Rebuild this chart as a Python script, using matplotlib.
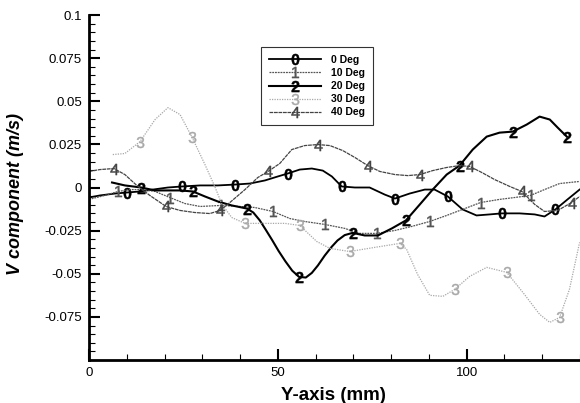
import matplotlib
matplotlib.use('Agg')
import matplotlib.pyplot as plt
from matplotlib.lines import Line2D
from matplotlib.ticker import MultipleLocator, FixedLocator, FuncFormatter

plt.rcParams['font.family'] = ['Liberation Sans', 'DejaVu Sans']
plt.rcParams['axes.unicode_minus'] = False
plt.rcParams['mathtext.fontset'] = 'custom'
plt.rcParams['mathtext.rm'] = 'Liberation Sans:bold'
plt.rcParams['mathtext.sf'] = 'Liberation Sans'

# Values (Y position in mm, V in m/s)
deg0_x = [0, 2.9, 6.9, 10.1, 13.5, 16.9, 20.9, 24.6, 29.4, 34.1, 38.6, 42.6, 46.6, 50.0, 52.6, 55.8,
          59.0, 61.9, 64.3, 66.9, 70.4, 74.3, 78.3, 81.0, 84.9, 88.9, 91.5, 95.0, 98.9, 102.6, 106.1,
          109.3, 114.0, 118.0, 120.6, 123.5, 126.7, 129.9]
deg0_y = [-0.0058, -0.0046, -0.0035, -0.0029, -0.0023, -0.0012, 0.0, 0.0006, 0.0012, 0.0012, 0.0017,
          0.0023, 0.0041, 0.0064, 0.0081, 0.0104, 0.011, 0.0098, 0.0064, 0.0006, 0.0, 0.0, -0.0041,
          -0.0064, -0.0035, -0.0012, -0.0012, -0.0052, -0.0127, -0.0162, -0.0156, -0.015, -0.015,
          -0.0156, -0.0168, -0.0127, -0.0069, -0.0012]
deg0_marks = [3, 7, 10, 14, 19, 23, 27, 31, 35]

deg10_x = [0, 4.2, 7.7, 10.8, 14.0, 17.5, 21.4, 25.4, 29.4, 34.9, 39.9, 43.9, 48.7, 53.2, 57.1, 62.4,
           67.7, 71.7, 76.2, 81.0, 85.4, 90.2, 94.7, 99.5, 103.7, 108.7, 112.7, 116.9, 120.6, 124.6, 129.9]
deg10_y = [-0.0069, -0.0046, -0.0023, -0.0012, -0.0012, -0.0023, -0.0058, -0.0093, -0.011, -0.0104,
           -0.011, -0.0116, -0.0139, -0.018, -0.0197, -0.0214, -0.0237, -0.0266, -0.0266, -0.0249,
           -0.0226, -0.0197, -0.0162, -0.0122, -0.0087, -0.0069, -0.0058, -0.0046, -0.0012, 0.0023, 0.0035]
deg10_marks = [2, 6, 9, 12, 15, 18, 21, 24, 27]

deg20_x = [6.1, 9.5, 13.8, 17.5, 20.9, 24.1, 27.5, 30.7, 34.1, 37.8, 41.8, 43.5, 45.2, 46.8, 48.5, 50.2,
           52.0, 53.8, 55.6, 57.4, 59.0, 60.6, 62.4, 64.2, 65.8, 67.7, 69.8, 73.0, 76.5, 80.2, 83.9,
           87.6, 91.0, 94.7, 98.1, 101.6, 105.3, 108.7, 112.2, 115.9, 119.3, 122.0, 124.1, 126.5]
deg20_y = [0.0029, 0.0012, 0.0, -0.0017, -0.0017, -0.0017, -0.0023, -0.0052, -0.0081, -0.0104, -0.0122,
           -0.0145, -0.019, -0.0245, -0.0305, -0.0368, -0.0428, -0.0482, -0.0518, -0.0522, -0.0495,
           -0.0452, -0.0395, -0.0345, -0.0307, -0.0276, -0.0263, -0.0278, -0.0278, -0.0237, -0.0191,
           -0.0098, -0.0012, 0.0075, 0.0127, 0.022, 0.0295, 0.0318, 0.0324, 0.0365, 0.0411, 0.0394,
           0.0347, 0.0295]
deg20_marks = [2, 6, 10, 18, 26, 30, 34, 38, 43]

deg30_x = [6.3, 9.5, 13.5, 17.5, 20.9, 24.1, 27.2, 30.7, 33.3, 35.2, 37.8, 41.3, 46.6, 51.9, 55.8, 60.3,
           63.8, 69.0, 75.7, 82.3, 84.1, 87.0, 90.2, 93.7, 96.8, 100.8, 105.3, 110.6, 115.3, 119.3,
           122.0, 124.6, 127.2, 129.9]
deg30_y = [0.0191, 0.0197, 0.0266, 0.0394, 0.0463, 0.0423, 0.0295, 0.0133, 0.0006, -0.0098, -0.0174,
           -0.0208, -0.0208, -0.0208, -0.022, -0.0313, -0.0353, -0.0371, -0.0347, -0.0324, -0.0359,
           -0.0504, -0.0625, -0.0631, -0.0591, -0.0515, -0.0463, -0.0492, -0.062, -0.0735, -0.0782,
           -0.0753, -0.0591, -0.0318]
deg30_marks = [2, 6, 11, 14, 17, 19, 24, 27, 31]

deg40_x = [0, 2.9, 6.6, 9.5, 12.4, 16.1, 20.4, 24.1, 28.0, 32.0, 34.7, 37.3, 41.3, 44.7, 47.4, 50.5,
           53.7, 57.1, 60.6, 63.8, 67.2, 70.4, 73.8, 77.0, 81.0, 84.4, 87.6, 91.0, 94.7, 98.1, 100.8,
           104.0, 107.4, 111.4, 114.6, 118.0, 120.6, 124.1, 127.8, 129.9]
deg40_y = [0.0093, 0.0104, 0.011, 0.0075, 0.0017, -0.0046, -0.011, -0.0133, -0.0145, -0.0151, -0.0133,
           -0.0087, -0.0012, 0.0058, 0.0093, 0.0139, 0.022, 0.0243, 0.0249, 0.0243, 0.0214, 0.0174,
           0.0127, 0.0093, 0.0075, 0.0069, 0.0075, 0.0098, 0.0116, 0.0127, 0.0122, 0.0087, 0.0046,
           0.0006, -0.0023, -0.0098, -0.0139, -0.0133, -0.0087, -0.0052]
deg40_marks = [2, 6, 10, 14, 18, 22, 26, 30, 34, 38]

labels = ['0 Deg', '10 Deg', '20 Deg', '30 Deg', '40 Deg']
symbols = [r'$0$', r'$\mathsf{1}$', r'$2$', r'$\mathsf{3}$', r'$\mathsf{4}$']

series = [(deg0_x, deg0_y, deg0_marks), (deg10_x, deg10_y, deg10_marks),
          (deg20_x, deg20_y, deg20_marks), (deg30_x, deg30_y, deg30_marks),
          (deg40_x, deg40_y, deg40_marks)]
styles = [dict(color='black', lw=1.3, ls='-'),
          dict(color='#555555', lw=0.9, ls=(0, (1.5, 0.7))),
          dict(color='black', lw=1.5, ls='-'),
          dict(color='#a8a8a8', lw=0.9, ls=(0, (1, 1))),
          dict(color='#444444', lw=0.9, ls=(0, (3, 0.6)))]

fig = plt.figure(figsize=(5.8, 4.03), dpi=100)
ax = fig.add_axes([89 / 580, 1 - 360 / 403, 491 / 580, 345 / 403])

handles = []
for (xs, ys, marks), sym, st, lab in zip(series, symbols, styles, labels):
    ax.plot(xs, ys, color=st['color'], lw=st['lw'], ls=st['ls'])
    ax.plot([xs[i] for i in marks], [ys[i] for i in marks], ls='None', marker=sym,
            markersize=8, color=st['color'], markeredgewidth=0.3)
    handles.append(Line2D([0], [0], color=st['color'], lw=st['lw'], ls=st['ls'],
                          marker=sym, markersize=8, markeredgewidth=0.3, label=lab))

ax.set_xlim(0, 130)
ax.set_ylim(-0.1, 0.1)
ax.xaxis.set_major_locator(FixedLocator([0, 50, 100]))
ax.xaxis.set_minor_locator(MultipleLocator(10))
ax.yaxis.set_major_locator(FixedLocator([-0.075, -0.05, -0.025, 0, 0.025, 0.05, 0.075, 0.1]))
ax.yaxis.set_minor_locator(MultipleLocator(0.005))
ax.yaxis.set_major_formatter(FuncFormatter(lambda v, p: f'{v:g}'))
ax.tick_params(which='major', direction='in', length=8, width=1.5, labelsize=9.5, pad=5)
ax.tick_params(which='minor', direction='in', length=4, width=0.8)

for side in ['top', 'right']:
    ax.spines[side].set_visible(False)
for side in ['left', 'bottom']:
    ax.spines[side].set_linewidth(2)

ax.set_xlabel('Y-axis (mm)', fontsize=13.5, fontweight='bold')
ax.set_ylabel('V component (m/s)', fontsize=13, fontweight='bold', style='italic')
ax.xaxis.set_label_coords(0.497, -0.078)
ax.yaxis.set_label_coords(-0.133, 0.48)

leg = ax.legend(handles=handles, loc='upper left', bbox_to_anchor=(0.35, 0.907),
                prop={'size': 7.5, 'weight': 'bold'}, handlelength=5.0, handletextpad=1.0,
                labelspacing=0.3, borderpad=0.75, borderaxespad=0, fancybox=False,
                frameon=True, numpoints=1)
leg.get_frame().set_edgecolor('black')
leg.get_frame().set_linewidth(0.8)

fig.savefig('out.png', dpi=100)
